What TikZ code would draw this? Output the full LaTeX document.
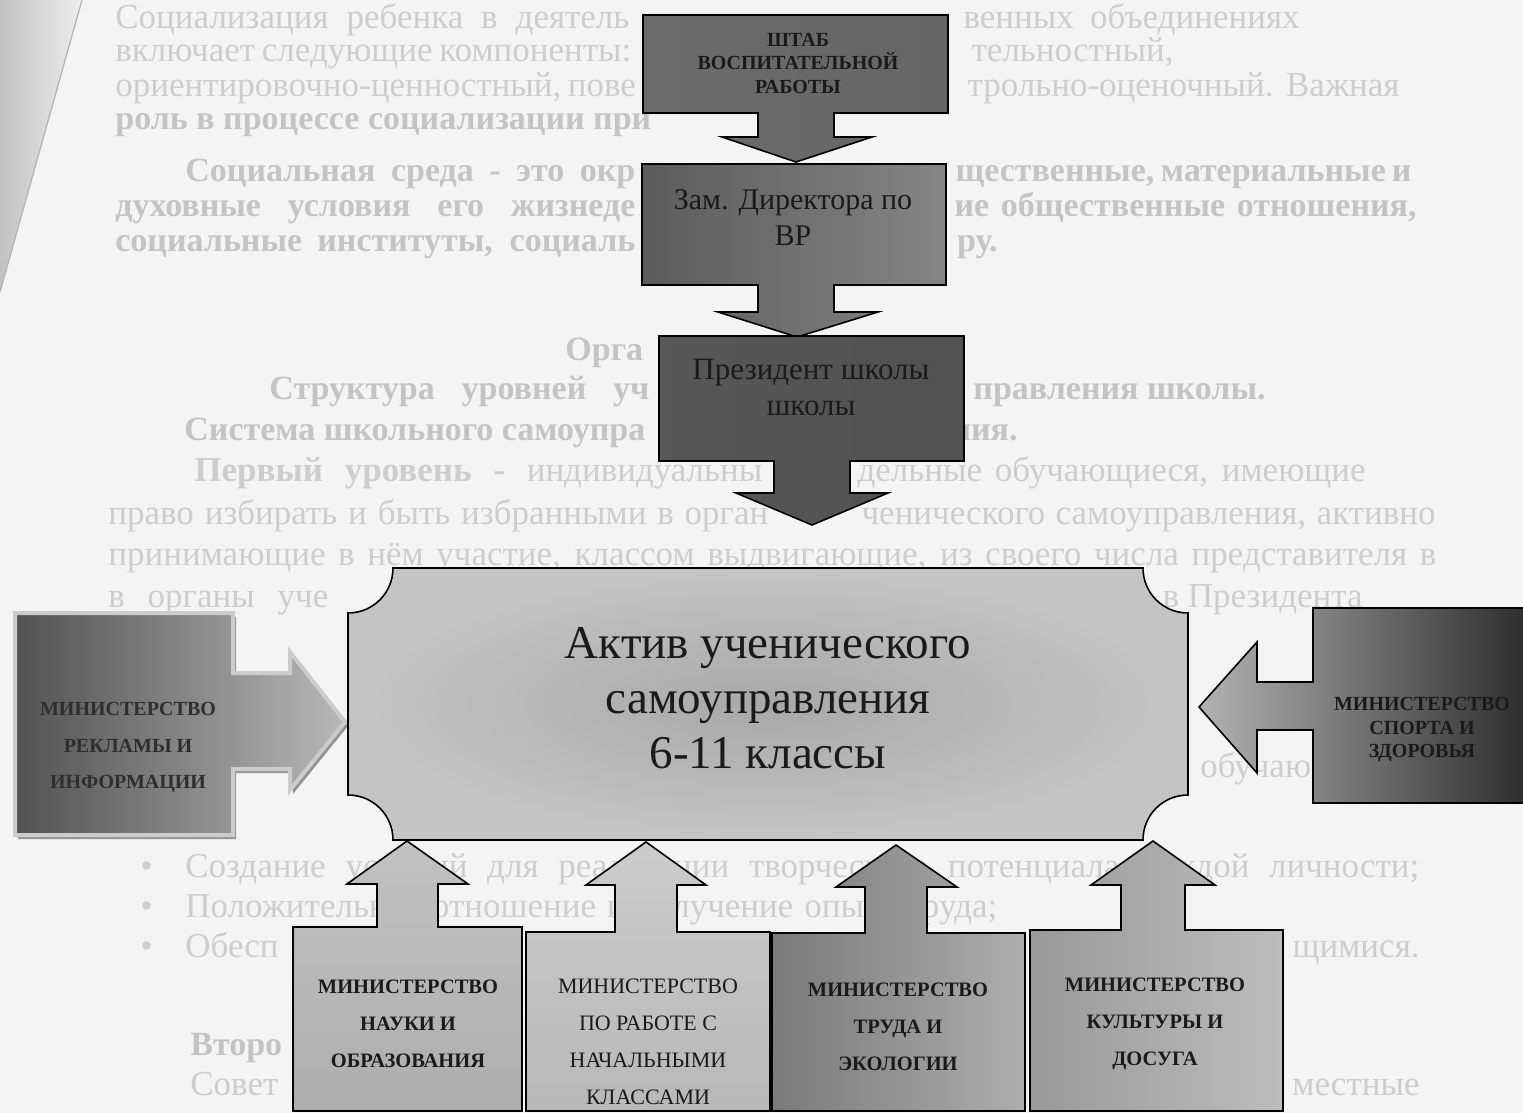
\documentclass[tikz,border=0pt]{standalone}
\usepackage{fontspec}
\setmainfont{Liberation Serif}
\newcommand\setfs[2]{\fontsize{#1}{#2}\selectfont}
\definecolor{paper}{HTML}{F4F4F5}
\definecolor{ghost}{HTML}{CDCDCD}
\definecolor{ghostb}{HTML}{C4C4C4}
\definecolor{ink}{HTML}{1A1A1A}
\begin{document}
\begin{tikzpicture}[x=0.5pt,y=-0.5pt,
  bgtext/.style={anchor=base west, inner sep=0pt, text=ghost, font=\setfs{17.5}{20}},
  bgbold/.style={bgtext, text=ghostb, font=\setfs{17}{20}\bfseries},
  bgE/.style={anchor=base east},
  callout/.style={draw=black, line width=0.8pt, line join=miter},
  lbl/.style={align=center, inner sep=0pt, text=ink},
  minb/.style={lbl, font=\setfs{10.25}{18.5}\bfseries},
]
\useasboundingbox (0,0) rectangle (1523,1113);
\fill[paper] (0,0) rectangle (1523,1113);
\begin{scope}
\clip (0,0) rectangle (1523,1113);
% page edge shadow
\fill[left color=black!24, right color=black!7] (0,0) -- (82,0) -- (0,292) -- cycle;
\draw[black!30, line width=0.6pt] (82,0) -- (0,292);

% ---------- faint background text of the scanned page (visible parts) ----------
\node[bgtext] (r1l) at (115,29) {\makebox[257pt][s]{Социализация ребенка в деятель}};
\node[bgtext, bgE] (r1r) at (1300,29) {\makebox[168pt][s]{венных объединениях}};
\node[bgtext] (r2l) at (115,62) {\makebox[258pt][s]{включает следующие компоненты:}};
\node[bgtext, bgE] (r2r) at (1174,62) {тельностный,};
\node[bgtext] (r3l) at (115,97) {\makebox[259pt][s]{ориентировочно-ценностный, пове}};
\node[bgtext, bgE] (r3r) at (1400,97) {\makebox[216pt][s]{трольно-оценочный. Важная}};
\node[bgbold] (r4l) at (115,130) {роль в процессе социализации при};
\node[bgbold] (r5l) at (185,182) {\makebox[225pt][s]{Социальная среда - это окр}};
\node[bgbold, bgE] (r5r) at (1412,182) {\makebox[228pt][s]{щественные, материальные и}};
\node[bgbold] (r6l) at (115,217) {\makebox[260pt][s]{духовные условия его жизнеде}};
\node[bgbold, bgE] (r6r) at (1417,217) {\makebox[231pt][s]{ие общественные отношения,}};
\node[bgbold] (r7l) at (115,251) {\makebox[260pt][s]{социальные институты, социаль}};
\node[bgbold, bgE] (r7r) at (998,251) {ру.};
\node[bgbold] (r8l) at (565,360) {Орга};
\node[bgbold] (r9l) at (269,400) {\makebox[190pt][s]{Структура уровней уч}};
\node[bgbold, bgE] (r9r) at (1266,400) {правления школы.};
\node[bgbold] (r10l) at (184,440) {Система школьного самоупра};
\node[bgbold, bgE] (r10r) at (1018,440) {ния.};
\node[bgtext] (r11l) at (194,481) {\makebox[284pt][s]{\textbf{Первый уровень -} индивидуальны}};
\node[bgtext, bgE] (r11r) at (1366,481) {\makebox[254pt][s]{дельные обучающиеся, имеющие}};
\node[bgtext] (r12l) at (108,524) {\makebox[330pt][s]{право избирать и быть избранными в орган}};
\node[bgtext, bgE] (r12r) at (1436,524) {\makebox[287pt][s]{ченического самоуправления, активно}};
\node[bgtext] (r13) at (108,565) {\makebox[664pt][s]{принимающие в нём участие, классом выдвигающие, из своего числа представителя в}};
\node[bgtext] (r14l) at (108,607) {\makebox[110pt][s]{в органы уче}};
\node[bgtext, bgE] (r14r) at (1363,607) {в Президента};
\node[bgtext] (r15) at (1200,777) {обучаю};
\node[bgtext] (bu1) at (140,877) {•};
\node[bgtext] (r17) at (185,877) {\makebox[617pt][s]{Создание условий для реализации творческого потенциала каждой личности;}};
\node[bgtext] (bu2) at (140,917) {•};
\node[bgtext] (r18) at (185,917) {\makebox[406pt][s]{Положительное отношение и получение опыта труда;}};
\node[bgtext] (bu3) at (140,957) {•};
\node[bgtext] (r19l) at (185,957) {Обесп};
\node[bgtext, bgE] (r19r) at (1420,957) {щимися.};
\node[bgbold] (r20l) at (190,1055) {Второ};
\node[bgtext] (r21l) at (190,1095) {Совет};
\node[bgtext, bgE] (r21r) at (1420,1095) {местные};

% ---------- top chain ----------
\path[callout, left color=black!58, middle color=black!38, right color=black!60]
  (643,15) -- (948,15) -- (948,113) -- (834,113) -- (834,137) -- (872,137) -- (796,162)
  -- (722,137) -- (758,137) -- (758,113) -- (643,113) -- cycle;
\node[lbl, font=\setfs{10}{11.75}\bfseries] (shtab) at (798,63) {ШТАБ\\ВОСПИТАТЕЛЬНОЙ\\РАБОТЫ};

\path[callout, left color=black!64, middle color=black!30, right color=black!48]
  (642,164) -- (946,164) -- (946,285) -- (834,285) -- (834,312) -- (878,312) -- (797,337)
  -- (718,312) -- (758,312) -- (758,285) -- (642,285) -- cycle;
\node[lbl, font=\setfs{15}{18}] (zam) at (793,218) {Зам. Директора по\\ВР};

\path[callout, left color=black!66, middle color=black!34, right color=black!68]
  (659,336) -- (964,336) -- (964,461) -- (850,461) -- (850,493) -- (888,493) -- (812,525)
  -- (736,493) -- (774,493) -- (774,461) -- (659,461) -- cycle;
\node[lbl, font=\setfs{15.5}{18}] (pres) at (811,388) {Президент школы\\школы};

% ---------- side callouts ----------
\path[fill=black!42] (18,617) -- (236,617) -- (236,677) -- (293,677) -- (293,656) -- (348,726)
  -- (293,794) -- (293,773) -- (236,773) -- (236,839) -- (18,839) -- cycle;
\path[draw=black!20, line width=2pt, line join=miter, left color=black!68, right color=black!28]
  (15,613) -- (233,613) -- (233,673) -- (290,673) -- (290,652) -- (345,722)
  -- (290,790) -- (290,769) -- (233,769) -- (233,835) -- (15,835) -- cycle;
\node[lbl, text=black!82, font=\setfs{10}{18.25}\bfseries] (reklama) at (128,748) {МИНИСТЕРСТВО\\РЕКЛАМЫ И\\ИНФОРМАЦИИ};

\path[callout, left color=black!30, middle color=black!50, right color=black!82]
  (1313,608) -- (1526,608) -- (1526,803) -- (1313,803) -- (1313,730) -- (1257,730)
  -- (1257,773) -- (1199,707) -- (1257,642) -- (1257,682) -- (1313,682) -- cycle;
\node[lbl, font=\setfs{10}{11.75}\bfseries] (sport) at (1422,730) {МИНИСТЕРСТВО\\СПОРТА И\\ЗДОРОВЬЯ};

% ---------- bottom callouts ----------
\path[callout, top color=black!24, bottom color=black!32]
  (293,1111) -- (293,927) -- (377,927) -- (377,884) -- (347,884) -- (407,841)
  -- (468,884) -- (438,884) -- (438,927) -- (522,927) -- (522,1111) -- cycle;
\node[minb] (nauka) at (408,1024) {МИНИСТЕРСТВО\\НАУКИ И\\ОБРАЗОВАНИЯ};

\path[callout, top color=black!20, bottom color=black!28]
  (526,1111) -- (526,932) -- (615,932) -- (615,885) -- (586,885) -- (646,842)
  -- (706,885) -- (677,885) -- (677,932) -- (770,932) -- (770,1111) -- cycle;
\node[lbl, font=\setfs{11}{18.5}] (nach) at (648,1042) {МИНИСТЕРСТВО\\ПО РАБОТЕ С\\НАЧАЛЬНЫМИ\\КЛАССАМИ};

\path[callout, left color=black!52, right color=black!32]
  (772,1111) -- (772,933) -- (865,933) -- (865,887) -- (836,887) -- (896,845)
  -- (957,887) -- (927,887) -- (927,933) -- (1025,933) -- (1025,1111) -- cycle;
\node[minb] (trud) at (898,1027) {МИНИСТЕРСТВО\\ТРУДА И\\ЭКОЛОГИИ};

\path[callout, left color=black!40, right color=black!26]
  (1030,1111) -- (1030,930) -- (1121,930) -- (1121,885) -- (1091,885) -- (1153,841)
  -- (1215,885) -- (1185,885) -- (1185,930) -- (1283,930) -- (1283,1111) -- cycle;
\node[minb] (kult) at (1155,1024) {МИНИСТЕРСТВО\\КУЛЬТУРЫ И\\ДОСУГА};

% ---------- central plaque ----------
\path[callout, inner color=black!34, outer color=black!23]
  (393,568) -- (1143,568) .. controls (1143,593) and (1163,613) .. (1188,613)
  -- (1188,795) .. controls (1163,795) and (1143,815) .. (1143,840)
  -- (393,840) .. controls (393,815) and (373,795) .. (348,795)
  -- (348,613) .. controls (373,613) and (393,593) .. (393,568) -- cycle;
\node[lbl, font=\setfs{23.5}{27.5}] (aktiv) at (768,698) {Актив ученического\\самоуправления\\6-11 классы};
\end{scope}
\end{tikzpicture}
\end{document}
